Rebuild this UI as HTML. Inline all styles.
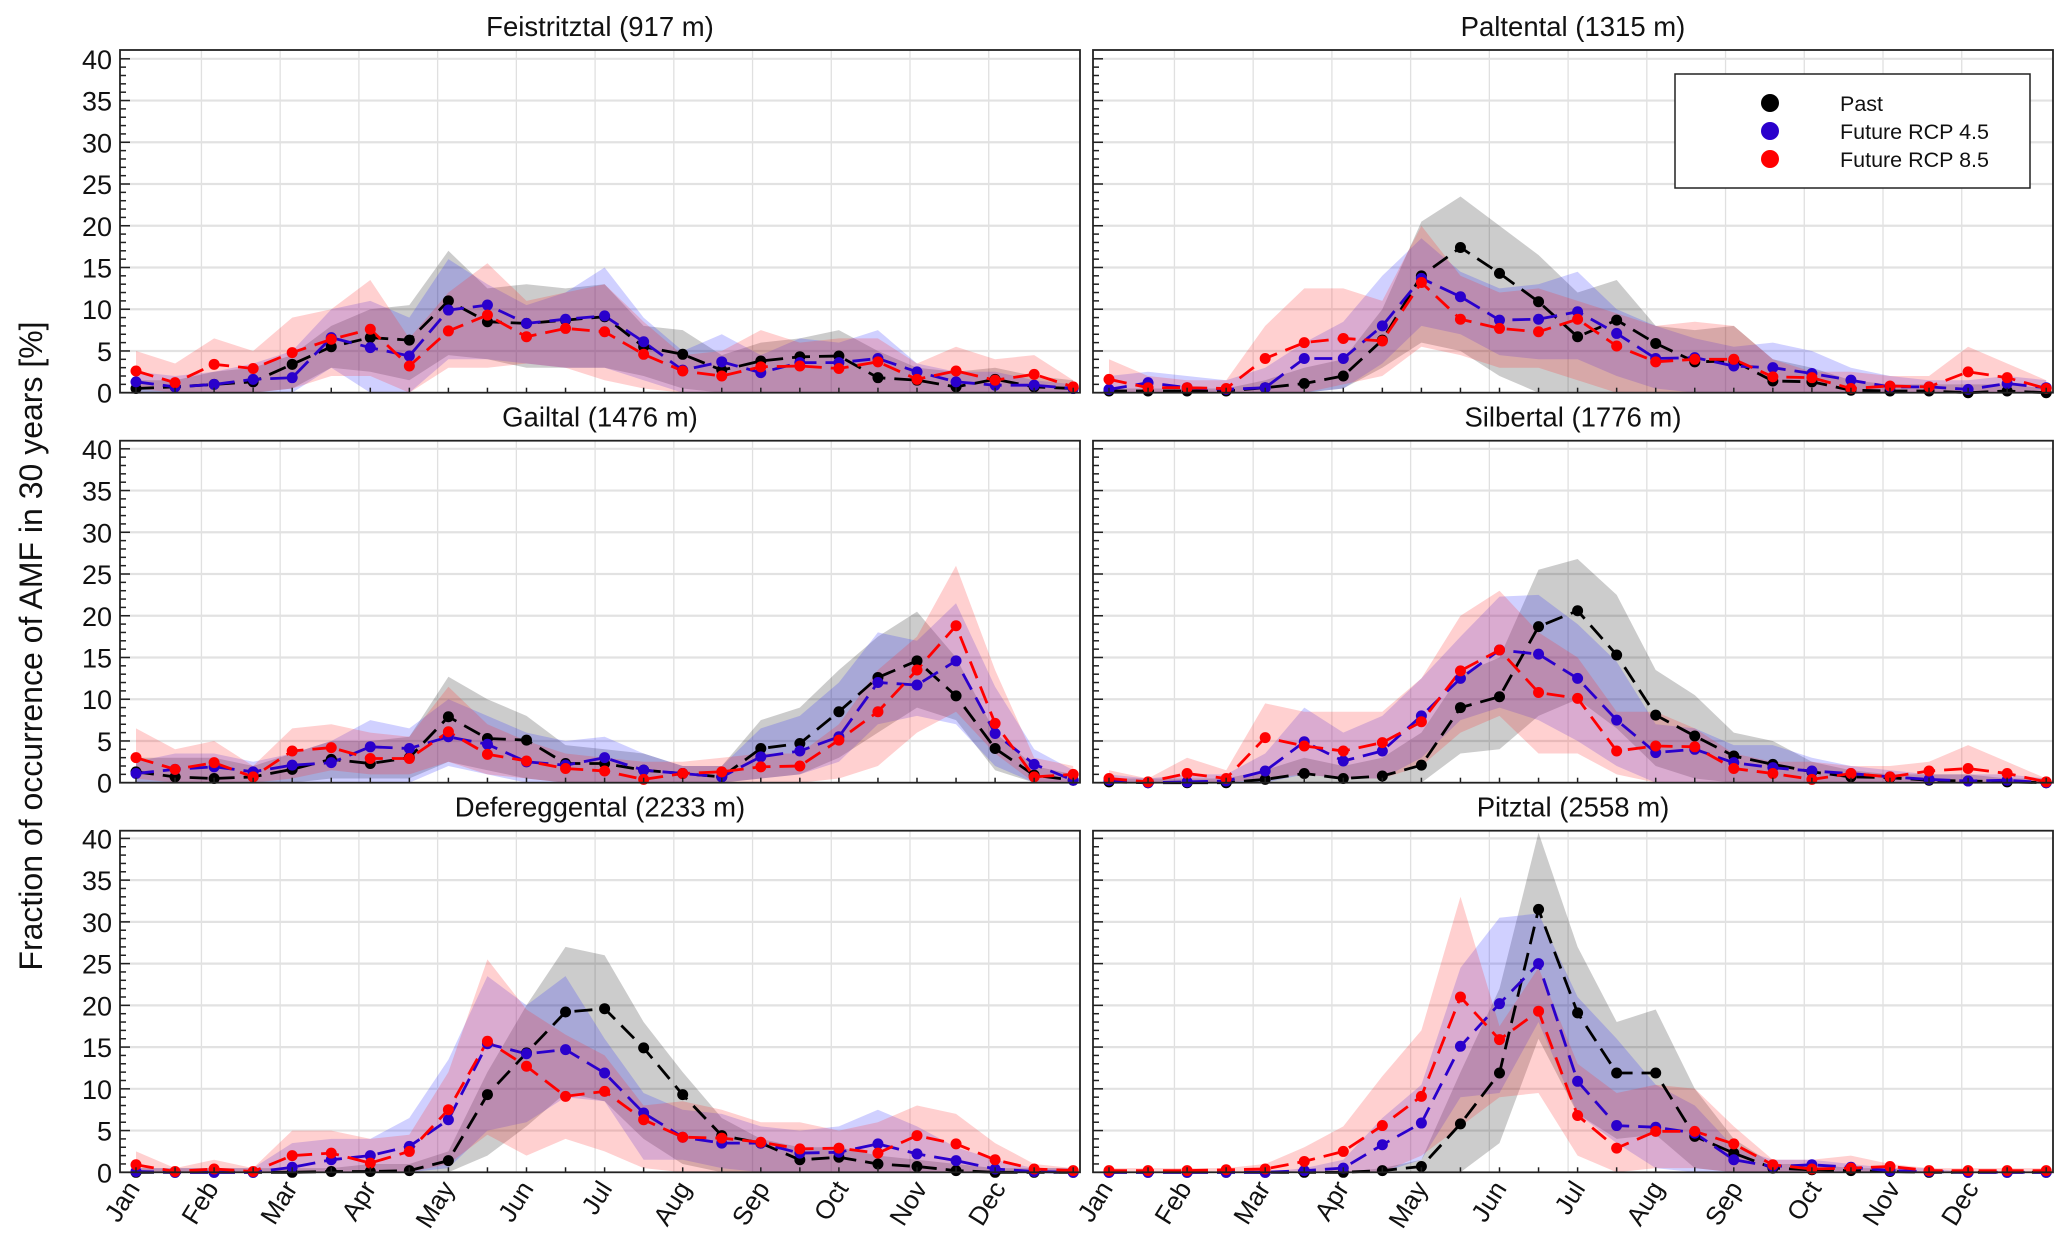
<!DOCTYPE html>
<html><head><meta charset="utf-8"><style>
html,body{margin:0;padding:0;background:#fff;}
svg{display:block;font-family:"Liberation Sans",sans-serif;}
</style></head><body>
<svg id="chart" width="2067" height="1256" viewBox="0 0 2067 1256" xmlns="http://www.w3.org/2000/svg">
<text x="0" y="0" transform="translate(42,646) rotate(-90)" text-anchor="middle" font-size="32" fill="#111">Fraction of occurrence of AMF in 30 years [%]</text>
<g id="panels"></g>
<g>
<rect x="1675" y="74" width="355" height="114" fill="#fff" stroke="#222" stroke-width="1.5"/>
<circle cx="1770" cy="103" r="9" fill="#000"/>
<text x="1840" y="111" font-size="21.5" fill="#111">Past</text>
<circle cx="1770" cy="131" r="9" fill="#2a00cc"/>
<text x="1840" y="139" font-size="21.5" fill="#111">Future RCP 4.5</text>
<circle cx="1770" cy="159" r="9" fill="#ff0000"/>
<text x="1840" y="167" font-size="21.5" fill="#111">Future RCP 8.5</text>
</g>
</svg>
<script>
const monthLabels = ["Jan","Feb","Mar","Apr","May","Jun","Jul","Aug","Sep","Oct","Nov","Dec"];
const yTicks = [0,5,10,15,20,25,30,35,40];
const panelTitles = ["Feistritztal (917 m)","Paltental (1315 m)","Gailtal (1476 m)","Silbertal (1776 m)","Defereggental (2233 m)","Pitztal (2558 m)"];

const p1Past = [0.5,0.7,1.0,1.3,3.4,5.5,6.6,6.3,11.0,8.5,8.3,8.7,9.1,5.5,4.6,2.7,3.8,4.3,4.4,1.8,1.5,0.7,1.6,0.7,0.5];
const p1PastHi = [1.5,1.5,2.5,3,4.5,8,10,10.5,17,12.5,13,12.5,13,8,7.5,4.5,6,6.5,7.5,5,3,2.5,3,2,1.5];
const p1PastLo = [0,0,0,0,0.5,3,2.5,1.5,4.5,4,3,3,3,2,0.5,0,0,0,0,0,0,0,0,0,0];
const p1R45 = [1.3,0.7,1.0,1.6,1.8,6.6,5.4,4.4,9.9,10.5,8.3,8.8,9.2,6.1,2.7,3.7,2.4,3.6,3.6,4.1,2.5,1.3,0.9,0.9,0.5];
const p1R45Hi = [2.5,2,2.5,3.5,5,10,11,9,16,13,10.5,12,15,9,5,7,4.5,6.5,6,7.5,3.5,2.5,2.5,1.5,1];
const p1R45Lo = [0,0,0,0,0,3,0,0,4,4,3.5,3,3,1.5,0,0,0,0,0,0,0,0,0,0,0];
const p1R85 = [2.6,1.2,3.4,2.9,4.8,6.4,7.6,3.2,7.4,9.3,6.7,7.7,7.3,4.6,2.6,2.0,3.1,3.2,2.9,3.7,1.6,2.6,1.5,2.2,0.7];
const p1R85Hi = [5,3.5,6.5,5,9,10,13.5,6.5,12,15.5,11,12,13,8.5,4.5,5,7.5,6,6.5,6.5,3.5,5.5,4,4.5,1.5];
const p1R85Lo = [0.5,0,0,0,0.5,2,2,0,3,3,3.5,3,1.5,0.5,0,0,0,0,0,0,0,0,0,0,0];

const p2Past = [0.2,0.2,0.2,0.2,0.6,1.1,2.0,6.3,14.0,17.4,14.3,10.9,6.7,8.7,5.9,3.7,3.8,1.4,1.3,0.3,0.2,0.2,0,0.2,0];
const p2PastHi = [0.5,0.5,0.5,0.5,1.5,3,4,10,20.5,23.5,20,16.5,12,13.5,8,7.5,8,4,3,1.5,1,1,1,1,0.5];
const p2PastLo = [0,0,0,0,0,0,0.5,3,6,5,2,0,0,0,0,0,0,0,0,0,0,0,0,0,0];
const p2R45 = [0.4,1.2,0.6,0.4,0.6,4.1,4.1,8.0,13.7,11.5,8.7,8.8,9.7,7.1,4.1,4.2,3.2,3.0,2.3,1.5,0.7,0.7,0.4,1.1,0.6];
const p2R45Hi = [2,2.5,2,1.5,3,6,8.5,14,18.5,14.5,12.5,13,14.5,10,8,6.5,5.5,6,5,3,2,1.5,1.5,2,1.5];
const p2R45Lo = [0,0,0,0,0,0,0.5,3.5,8,7,4.5,4,4,2,0.5,0,0,0,0,0,0,0,0,0,0];
const p2R85 = [1.6,0.6,0.6,0.5,4.1,6.0,6.5,6.2,13.2,8.8,7.7,7.3,8.8,5.6,3.7,4.0,4.0,1.9,1.8,0.5,0.8,0.7,2.5,1.8,0.5];
const p2R85Hi = [4,2,1.5,1.5,8,12.5,12.5,11,20,14,12,12.5,11,9.5,8,8.5,8,4,2.5,2.5,2,2,5.5,3.5,1.5];
const p2R85Lo = [0,0,0,0,0,0,1,2,5.5,4.5,3,3,1.5,0,0,0,0,0,0,0,0,0,0,0,0];

const p3Past = [1.3,0.7,0.5,0.7,1.6,2.8,2.3,3.0,7.9,5.3,5.1,2.3,2.3,1.5,1.1,0.7,4.1,4.7,8.5,12.6,14.6,10.4,4.1,0.9,0.3];
const p3PastHi = [3,3,3,2,3.5,5,5,5.5,12.7,10,8,4.5,4,3.5,2,2,7.5,9,13.5,17.5,20.5,15,6,2,1];
const p3PastLo = [0,0,0,0,0,0.5,0.5,0.5,2.5,1.5,0.5,0,0,0,0,0,0.5,1,3,6,9,7.5,1.5,0,0];
const p3R45 = [1.1,1.6,1.9,1.3,2.1,2.4,4.3,4.1,5.5,4.6,2.5,2.1,3.0,1.5,1.1,0.7,3.1,3.8,5.5,12.0,11.7,14.6,5.9,2.2,0.3];
const p3R45Hi = [2.5,3.5,3.5,2.5,3.5,5,7.5,6.5,10,8,6,5,5.5,3.5,2,2,6.5,8,12,18,17,21.5,11.5,4,1.5];
const p3R45Lo = [0,0,0,0,0,0,0,0,2,1,0,0,0,0,0,0,0.5,1,2.5,7,8,7,2,0,0];
const p3R85 = [3.0,1.6,2.4,0.7,3.8,4.2,2.9,2.9,6.1,3.4,2.6,1.7,1.4,0.4,1.1,1.3,1.9,2.0,5.1,8.5,13.5,18.8,7.1,0.7,1.0];
const p3R85Hi = [6.5,4,5,2,6.5,7,6,5.5,11.5,7,5,3.5,3,2.5,2.5,3,3.5,3.5,7,13.5,17.5,26,13.5,3,2];
const p3R85Lo = [0.5,0,0,0,0.5,1.5,1,1,2.5,1,0.5,0,0,0,0,0,0,0,0.5,2,6,8.5,3.5,0,0];

const p4Past = [0.1,0,0,0,0.4,1.1,0.5,0.8,2.1,9.0,10.3,18.7,20.6,15.3,8.1,5.6,3.2,2.2,1.3,0.7,0.6,0.3,0.2,0.1,0];
const p4PastHi = [0.5,0.5,0.5,0.5,1.5,3,2,3,6,13,15,25.5,26.8,22.5,13.5,10.5,6,5,2.5,1.5,1,1,1,0.5,0.5];
const p4PastLo = [0,0,0,0,0,0,0,0,0,3.5,4,8,10,6.5,2,0.5,0,0,0,0,0,0,0,0,0];
const p4R45 = [0.3,0,0.1,0.2,1.4,4.9,2.6,3.8,8.0,12.5,15.9,15.4,12.5,7.5,3.6,4.0,2.4,1.8,1.4,1.1,0.7,0.4,0.2,0.3,0];
const p4R45Hi = [1,0.5,1,1,3.5,9,6,8,12.5,17.5,22.3,22.5,19,14.5,7,6.5,4.5,4.5,3,2,1.5,1,1,1,0.5];
const p4R45Lo = [0,0,0,0,0,1,0.5,0.5,3,7.5,9,7.5,5,2,0,0,0,0,0,0,0,0,0,0,0];
const p4R85 = [0.5,0.1,1.1,0.5,5.4,4.4,3.8,4.8,7.3,13.4,15.9,10.8,10.1,3.8,4.4,4.3,1.7,1.1,0.4,1.1,0.7,1.4,1.7,1.1,0.1];
const p4R85Hi = [1.5,0.5,3,1.5,9.5,8.5,8.5,8.5,12.5,20,23,18,15,8.5,8.5,6.5,3.5,2.5,2.5,2,2,2.5,4.5,2.5,0.5];
const p4R85Lo = [0,0,0,0,0.5,1,0.5,0.5,2,6,8,3.5,3.5,1,0,0,0,0,0,0,0,0,0,0,0];

const p5Past = [0,0,0,0,0,0.1,0.1,0.2,1.4,9.3,14.3,19.2,19.6,14.9,9.3,4.4,3.5,1.5,1.8,1.0,0.7,0.2,0,0,0];
const p5PastHi = [0.5,0.5,0.5,0.5,0.5,0.5,1,1,2.5,12,20,27,26,18,12,6.5,4,3,3,2,1.5,1,0.5,0.5,0.5];
const p5PastLo = [0,0,0,0,0,0,0,0,0,2,5.5,9.5,8.5,4,1,0,0,0,0,0,0,0,0,0,0];
const p5R45 = [0.1,0,0,0,0.6,1.5,2.0,3.1,6.3,15.4,14.2,14.7,11.9,7.1,4.2,3.5,3.5,2.3,2.4,3.4,2.2,1.4,0.4,0.1,0];
const p5R45Hi = [0.5,0.5,0.5,0.5,3.5,4,4,6.5,13.5,23.5,20,23.5,16,9.5,7.5,7,5.5,5,5.5,7.5,5.5,3,1.5,0.5,0.5];
const p5R45Lo = [0,0,0,0,0,0,0,0,0.5,5,6,9,8.5,1.5,1.5,0.5,0,0,0,0,0,0,0,0,0];
const p5R85 = [0.9,0.1,0.4,0.1,2.0,2.3,1.1,2.5,7.5,15.7,12.7,9.1,9.7,6.3,4.2,4.1,3.6,2.8,2.9,2.3,4.4,3.4,1.5,0.4,0.2];
const p5R85Hi = [2.5,0.5,1.5,0.5,5,5,4,4.5,12,25.5,19.5,16.5,14,8,8.5,7.5,6,6,5,6,8,7,3.5,1,0.5];
const p5R85Lo = [0,0,0,0,0,0,0,0,1,4.5,2,4,2.5,0.5,0,0,0,0,0,0,0,0,0,0,0];

const p6Past = [0,0,0,0,0,0,0,0.2,0.7,5.8,11.9,31.5,19.1,11.9,11.9,4.3,2.3,0.5,0.3,0.2,0.1,0,0,0,0];
const p6PastHi = [0,0,0,0,0,0,0,0.5,1.5,12,22,40.7,27,18,19.5,10,4,1,1,0.5,0.5,0,0,0,0];
const p6PastLo = [0,0,0,0,0,0,0,0,0,0,3.5,16,7,4,4.5,0.5,0,0,0,0,0,0,0,0,0];
const p6R45 = [0,0,0,0,0,0.2,0.5,3.3,5.9,15.1,20.2,25.0,10.9,5.6,5.4,4.7,1.5,0.7,0.9,0.6,0.2,0.1,0,0,0];
const p6R45Hi = [0,0,0,0,0,0.5,1.5,6.5,10.5,24.5,30.5,31,21,16,10.5,8,3,1.5,1.5,1,0.5,0.5,0,0,0];
const p6R45Lo = [0,0,0,0,0,0,0,0,1.5,9,9.5,18,7,3.5,0.5,0,0,0,0,0,0,0,0,0,0];
const p6R85 = [0.2,0.2,0.2,0.3,0.4,1.3,2.5,5.6,9.1,21.0,15.9,19.3,6.8,2.9,4.9,4.9,3.4,0.9,0.4,0.5,0.7,0.2,0.2,0.2,0.2];
const p6R85Hi = [0.5,0.5,0.5,0.5,1,3,5.5,11.5,17,33,17.5,24.5,13,9.5,10.5,10,5.5,1.5,1.5,2,1,0.5,0.5,0.5,0.5];
const p6R85Lo = [0,0,0,0,0,0,0,0,2,5.5,9,9.5,2,0,0.5,0.5,0,0,0,0,0,0,0,0,0];

const panelData = [
  [[p1Past,p1PastLo,p1PastHi],[p1R45,p1R45Lo,p1R45Hi],[p1R85,p1R85Lo,p1R85Hi]],
  [[p2Past,p2PastLo,p2PastHi],[p2R45,p2R45Lo,p2R45Hi],[p2R85,p2R85Lo,p2R85Hi]],
  [[p3Past,p3PastLo,p3PastHi],[p3R45,p3R45Lo,p3R45Hi],[p3R85,p3R85Lo,p3R85Hi]],
  [[p4Past,p4PastLo,p4PastHi],[p4R45,p4R45Lo,p4R45Hi],[p4R85,p4R85Lo,p4R85Hi]],
  [[p5Past,p5PastLo,p5PastHi],[p5R45,p5R45Lo,p5R45Hi],[p5R85,p5R85Lo,p5R85Hi]],
  [[p6Past,p6PastLo,p6PastHi],[p6R45,p6R45Lo,p6R45Hi],[p6R85,p6R85Lo,p6R85Hi]]
];
const seriesNames = ["past","rcp45","rcp85"];
const lineColors = ["#000000","#2a00cc","#ff0000"];
const bandColors = ["rgba(0,0,0,0.2)","rgba(40,40,255,0.22)","rgba(255,40,40,0.22)"];

const NS = "http://www.w3.org/2000/svg";
const root = document.getElementById("panels");
function mk(tag, attrs, parent){
  const e = document.createElementNS(NS, tag);
  for (const k in attrs) e.setAttribute(k, attrs[k]);
  parent.appendChild(e);
  return e;
}
const colL = [120, 1093], PW = 960;
const rowTop = [50, 440.7, 830.7], rowZero = [392.7, 782.7, 1172.3];
const YMAXPX = 333.9;

for (let p = 0; p < 6; p++) {
  const c = p % 2, r = Math.floor(p / 2);
  const L = colL[c], R = L + PW, T = rowTop[r], B = rowZero[r];
  const yS = v => B - v * YMAXPX / 40;
  const xS = i => L + 16 + i * 39.05;
  const xM = m => L + 2.7 + m * 78.73;
  const g = mk("g", {}, root);
  
  
  for (let k = 1; k < 12; k++) {
    const gl = mk("line", {x1: xM(k), x2: xM(k), y1: T, y2: B, stroke: "#e0e0e0", "stroke-width": 1.3}, g);
    
    
  }
  for (const t of yTicks) {
    if (t === 0) continue;
    const gl = mk("line", {x1: L, x2: R, y1: yS(t), y2: yS(t), stroke: "#e2e2e2", "stroke-width": 2.2}, g);
    
    
  }
  const sd = panelData[p];
  for (let s = 0; s < 3; s++) {
    const [mean, lo, hi] = sd[s];
    let d = "";
    for (let i = 0; i < hi.length; i++) d += (i ? "L" : "M") + xS(i).toFixed(1) + "," + yS(hi[i]).toFixed(1);
    for (let i = lo.length - 1; i >= 0; i--) d += "L" + xS(i).toFixed(1) + "," + yS(lo[i]).toFixed(1);
    const band = mk("path", {d: d + "Z", fill: bandColors[s], stroke: "none"}, g);
    
    
  }
  for (let s = 0; s < 3; s++) {
    const mean = sd[s][0];
    let d = "";
    for (let i = 0; i < mean.length; i++) d += (i ? "L" : "M") + xS(i).toFixed(1) + "," + yS(mean[i]).toFixed(1);
    const ln = mk("path", {d: d, fill: "none", stroke: lineColors[s], "stroke-width": 2.8, "stroke-dasharray": "18 9"}, g);
    
    
  }
  for (let s = 0; s < 3; s++) {
    const mean = sd[s][0];
    for (let i = 0; i < mean.length; i++) {
      const pt = mk("circle", {cx: xS(i), cy: yS(mean[i]), r: 5.5, fill: lineColors[s]}, g);
      
      
    }
  }
  const fr = mk("rect", {x: L, y: T, width: PW, height: B - T, fill: "none", stroke: "#222", "stroke-width": 1.8}, g);
  
  
  for (let v = 0; v <= 40; v++) {
    const len = v % 5 === 0 ? 10 : 6;
    const tk = mk("line", {x1: L, x2: L + len, y1: yS(v), y2: yS(v), stroke: "#222", "stroke-width": 1.5}, g);
    
    
  }
  for (let i = 0; i < 25; i++) {
    const tk = mk("line", {x1: xS(i), x2: xS(i), y1: B, y2: B - 5, stroke: "#222", "stroke-width": 1.5}, g);
    
    
  }
  if (c === 0) {
    for (const t of yTicks) {
      const tl = mk("text", {x: L - 8, y: yS(t) + 10, "text-anchor": "end", "font-size": 27, fill: "#111"}, g);
      tl.textContent = t;
      
      
    }
  }
  const ti = mk("text", {x: L + PW / 2, y: T - 14, "text-anchor": "middle", "font-size": 27.5, fill: "#111"}, g);
  ti.textContent = panelTitles[p];
  
  
  if (r === 2) {
    for (let k = 0; k < 12; k++) {
      const ml = mk("text", {x: 0, y: 0, "text-anchor": "end", "font-size": 26, fill: "#111",
        transform: "translate(" + (xM(k) + 18).toFixed(1) + "," + (B + 16) + ") rotate(-58)"}, g);
      ml.textContent = monthLabels[k];
      
      
    }
  }
}
</script>
</body></html>
